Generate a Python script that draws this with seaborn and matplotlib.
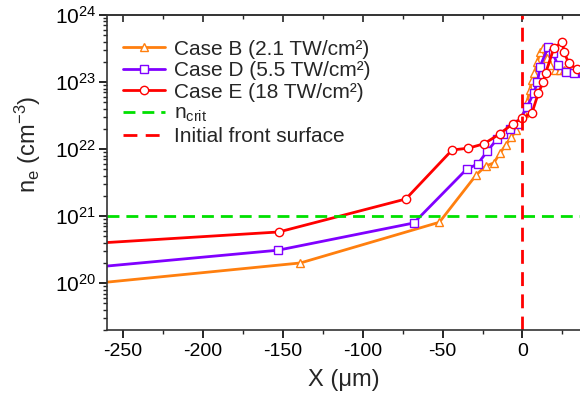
import numpy as np
import pandas as pd
import matplotlib
matplotlib.use("Agg")
import matplotlib.pyplot as plt
from matplotlib.ticker import LogLocator, MultipleLocator
import seaborn as sns

# Case B (2.1 TW/cm2)
x_b = [-270, -139, -52, -29, -23, -18, -14, -10.5, -7, -4, 1, 3, 4.5, 6, 7.5, 9.3, 11, 13,
       15.4, 17.5, 20.6, 23.7, 26, 28, 30, 32, 34, 36, 38]
n_b = [9.8e19, 2.0e20, 8.1e20, 4.1e21, 5.6e21, 6.2e21, 8.7e21, 1.15e22, 1.5e22, 1.9e22,
       3.5e22, 5.1e22, 7.6e22, 1.07e23, 1.37e23, 2.0e23, 2.8e23, 3.2e23, 2.3e23, 1.8e23,
       1.5e23, 1.5e23, 1.5e23, 1.48e23, 1.47e23, 1.46e23, 1.45e23, 1.45e23, 1.45e23]

# Case D (5.5 TW/cm2)
x_d = [-270, -153, -68, -35, -28, -22, -16, -12, -7.5, -3, 3, 7, 9.4, 11, 16, 19, 22, 27, 32, 38]
n_d = [1.71e20, 3.1e20, 7.9e20, 5.0e21, 6.0e21, 9.3e21, 1.4e22, 1.7e22, 2.0e22, 2.4e22,
       4.3e22, 6.9e22, 1.0e23, 1.7e23, 3.3e23, 2.7e23, 1.8e23, 1.4e23, 1.35e23, 1.35e23]

# Case E (18 TW/cm2)
x_e = [-270, -152.5, -73, -44, -34, -24, -14, -6, 0, 6, 10, 13, 14.5, 19.6, 25, 26, 29, 34, 40]
n_e = [3.9e20, 5.8e20, 1.8e21, 9.7e21, 1.03e22, 1.2e22, 1.7e22, 2.4e22, 2.9e22, 3.5e22,
       6.9e22, 1.0e23, 1.36e23, 3.2e23, 4.0e23, 2.8e23, 1.9e23, 1.55e23, 1.5e23]

n_crit = 1e21
x_front = 0

sns.set_style("ticks")
plt.rcParams['font.family'] = ['Liberation Sans', 'DejaVu Sans']
plt.rcParams['mathtext.fontset'] = 'custom'
plt.rcParams['mathtext.rm'] = 'Liberation Sans'
plt.rcParams['mathtext.it'] = 'Liberation Sans:italic'
plt.rcParams['axes.unicode_minus'] = False

fig = plt.figure(figsize=(5.8, 4.01), dpi=100)
ax = fig.add_axes([107 / 580, 71 / 401, 473 / 580, 315 / 401])

series = [
    (x_b, n_b, 'Case B (2.1 TW/cm²)', '#ff7f0e', '^'),
    (x_d, n_d, 'Case D (5.5 TW/cm²)', '#8000ff', 's'),
    (x_e, n_e, 'Case E (18 TW/cm²)', '#ff0000', 'o'),
]
for xs, ys, lab, col, mk in series:
    df = pd.DataFrame({'x': xs, 'n': ys})
    sns.lineplot(data=df, x='x', y='n', ax=ax, sort=False, color=col, lw=2,
                 marker=mk, markersize=6, markerfacecolor='white',
                 markeredgecolor=col, markeredgewidth=1, label=lab)

ax.axhline(n_crit, color='#00e000', lw=2, ls=(0, (4.3, 2.5)), label='n$_{\\rm crit}$')
ax.axvline(x_front, color='#ff0000', lw=2, ls=(0, (5, 3)), label='Initial front surface')

ax.set_yscale('log')
ax.set_xlim(-260, 36)
ax.set_ylim(2e19, 1e24)
ax.xaxis.set_major_locator(MultipleLocator(50))
ax.xaxis.set_minor_locator(MultipleLocator(25))
ax.yaxis.set_major_locator(LogLocator(base=10, numticks=10))
ax.yaxis.set_minor_locator(LogLocator(base=10, subs=np.arange(2, 10), numticks=20))

ax.spines['right'].set_visible(False)
for s in ['left', 'bottom', 'top']:
    ax.spines[s].set_linewidth(1.2)
    ax.spines[s].set_color('#333333')

ax.tick_params(axis='both', which='major', direction='out', length=6, width=1.2,
               colors='black')
ax.tick_params(axis='both', which='minor', direction='out', length=3, width=1)
ax.tick_params(axis='x', which='major', labelsize=14)
ax.tick_params(axis='y', which='major', labelsize=15, pad=2)
ax.tick_params(axis='y', which='both', right=False)

top = ax.secondary_xaxis('top')
top.xaxis.set_major_locator(MultipleLocator(50))
top.xaxis.set_minor_locator(MultipleLocator(25))
top.tick_params(which='major', direction='in', length=5, width=1.2, labeltop=False)
top.tick_params(which='minor', direction='in', length=3, width=1)
top.spines['top'].set_linewidth(1.2)
top.spines['top'].set_color('#333333')

ax.set_xlabel('X (μm)', fontsize=17, labelpad=6)
ax.set_ylabel('n$_{\\rm e}$ (cm$^{-3}$)', fontsize=17)
ax.yaxis.set_label_coords(-0.135, 0.59)

ax.legend(loc='upper left', frameon=False, fontsize=15, handlelength=2.0,
          borderaxespad=0, borderpad=0.5, labelspacing=0.12, handletextpad=0.45,
          bbox_to_anchor=(0.012, 0.955))

fig.savefig('out.png', dpi=100)
